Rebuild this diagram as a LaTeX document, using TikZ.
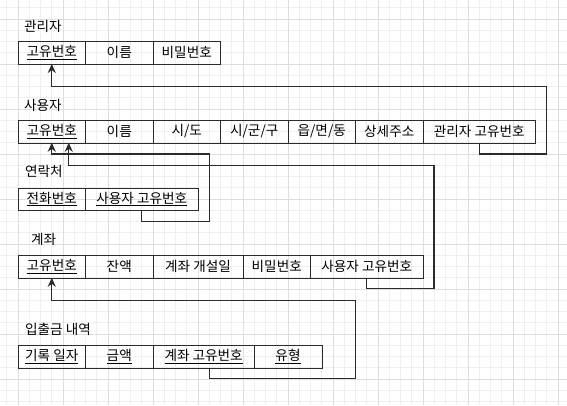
\documentclass[tikz,border=0pt]{standalone}
\usepackage{fontspec}
\setmainfont{Noto Sans CJK KR}
\usetikzlibrary{arrows.meta,positioning}
\definecolor{ink}{HTML}{2B2B2B}
\definecolor{gridlo}{HTML}{EFEFEF}
\definecolor{gridhi}{HTML}{DEDEDE}
\tikzset{>={Stealth[length=9pt,width=8pt]},line width=1.5pt,
  every node/.style={font=\fontsize{13.6}{15}\selectfont},
  cell/.style={draw=ink,minimum width=67.5pt,minimum height=22.5pt,inner sep=0pt,outer sep=0pt,anchor=west},
  tabletitle/.style={anchor=west,inner sep=0pt},
  fk/.style={->,draw=ink,line width=1.4pt},
  gridminor/.style={draw=gridlo,line width=.7pt},
  gridmajor/.style={draw=gridhi,line width=.9pt}}
\begin{document}
\begin{tikzpicture}[x=1pt,y=-1pt]
\useasboundingbox (0,0) rectangle (567,405);
\fill[white] (0,0) rectangle (567,405);
\foreach \i in {0,...,50} \draw[gridminor] (6.75+11.25*\i,0)--(6.75+11.25*\i,405);
\foreach \j in {0,...,35} \draw[gridminor] (0,7.75+11.25*\j)--(567,7.75+11.25*\j);
\foreach \i in {0,...,12} \draw[gridmajor] (18+45*\i,0)--(18+45*\i,405);
\foreach \j in {0,...,8} \draw[gridmajor] (0,19+45*\j)--(567,19+45*\j);
\node[tabletitle] (tAdmin) at (24,26) {관리자};
\node[cell] (admId) at (18,52.75) {\underline{고유번호}};
\node[cell,right=0pt of admId] (admName) {이름};
\node[cell,right=0pt of admName] (admPw) {비밀번호};
\node[tabletitle] (tUser) at (24,105) {사용자};
\node[cell] (usrId) at (18,131.5) {\underline{고유번호}};
\node[cell,right=0pt of usrId] (usrName) {이름};
\node[cell,right=0pt of usrName] (usrCity) {시/도};
\node[cell,right=0pt of usrCity] (usrDist) {시/군/구};
\node[cell,right=0pt of usrDist] (usrTown) {읍/면/동};
\node[cell,right=0pt of usrTown] (usrAddr) {상세주소};
\node[cell,minimum width=112.5pt,right=0pt of usrAddr] (usrAdm) {관리자 고유번호};
\node[tabletitle] (tContact) at (25,171) {연락처};
\node[cell] (ctPhone) at (18,199) {\underline{전화번호}};
\node[cell,minimum width=112.5pt,right=0pt of ctPhone] (ctUser) {\underline{사용자 고유번호}};
\node[tabletitle] (tAccount) at (31,239) {계좌};
\node[cell] (acId) at (18,266.5) {\underline{고유번호}};
\node[cell,right=0pt of acId] (acBal) {잔액};
\node[cell,minimum width=90pt,right=0pt of acBal] (acOpen) {계좌 개설일};
\node[cell,right=0pt of acOpen] (acPw) {비밀번호};
\node[cell,minimum width=112.5pt,right=0pt of acPw] (acUser) {사용자 고유번호};
\node[tabletitle] (tHistory) at (25,329) {입출금 내역};
\node[cell] (hsDate) at (18,356.5) {\underline{기록 일자}};
\node[cell,right=0pt of hsDate] (hsAmt) {\underline{금액}};
\node[cell,minimum width=101.25pt,right=0pt of hsAmt] (hsAcc) {\underline{계좌 고유번호}};
\node[cell,right=0pt of hsAcc] (hsType) {\underline{유형}};
\draw[fk] (usrAdm.south) |- (546.75,154) |- (51.75,86.5) -- (admId.south);
\draw[fk] (ctUser.south) |- (209.25,221.5) |- (51.75,154) -- (usrId.south);
\draw[fk] (acUser.south) |- (434,288.5) |- (68.75,165.25) -- ([xshift=17pt]usrId.south);
\draw[fk] ([xshift=5.6pt]hsAcc.south) |- (355.5,378.25) |- (51.75,300.25) -- (acId.south);
\end{tikzpicture}
\end{document}
